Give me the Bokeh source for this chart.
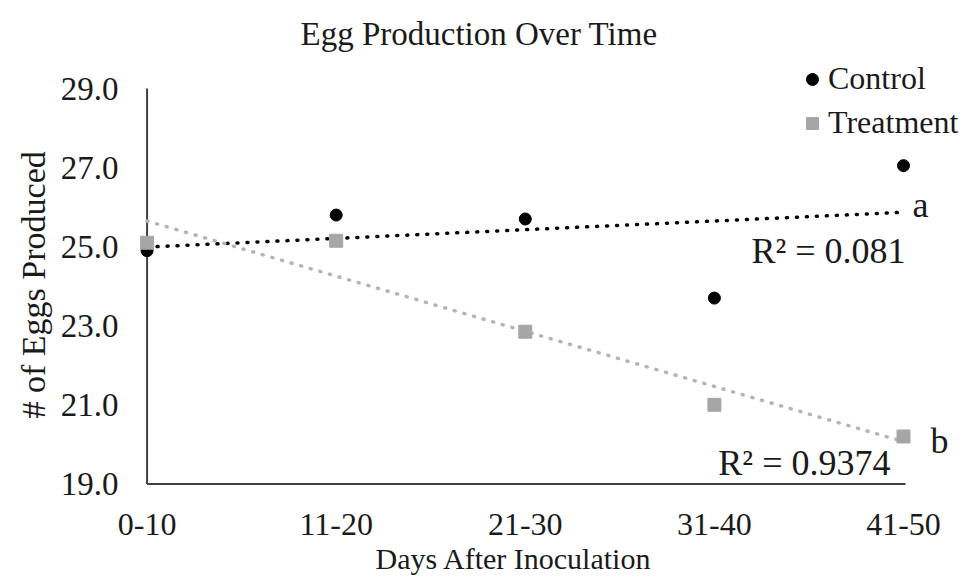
import numpy as np
from bokeh.plotting import figure
from bokeh.models import (Range1d, FixedTicker, Legend, LegendItem, Label, Title,
                          PrintfTickFormatter, ColumnDataSource)
from bokeh.embed import file_html
from bokeh.resources import INLINE

# ---- data ----
categories = ["0-10", "11-20", "21-30", "31-40", "41-50"]
control = [24.9, 25.8, 25.7, 23.7, 27.05]
treatment = [25.1, 25.15, 22.85, 21.0, 20.2]
y_ticks = [19, 21, 23, 25, 27, 29]
r2_control = "R\u00b2 = 0.081"
r2_treatment = "R\u00b2 = 0.9374"
letter_control = "a"
letter_treatment = "b"
title_text = "Egg Production Over Time"
x_title = "Days After Inoculation"
y_title = "# of Eggs Produced"

FONT = "Liberation Serif"
TXT = "#1a1a1a"
AX = "#404040"
CTRL_COL = "#000000"
TRT_COL = "#a6a6a6"
TRT_LINE = "#b4b4b4"

xpos = np.arange(len(categories))
x_lo, x_hi = -0.04, 4.349
y_lo, y_hi = 18.96, 29.81
x_axis_end = 4.0106

p = figure(width=969, height=580, output_backend="svg", toolbar_location=None,
           x_range=Range1d(x_lo, x_hi), y_range=Range1d(y_lo, y_hi),
           frame_width=830, frame_height=429,
           min_border_left=139, min_border_right=0,
           min_border_top=56, min_border_bottom=95)
p.outline_line_color = None
p.xgrid.visible = False
p.ygrid.visible = False
p.background_fill_color = "white"
p.border_fill_color = "white"

# title
p.title.text = title_text
p.title.align = "left"
p.title.offset = 161
p.title.text_font = FONT
p.title.text_font_size = "33px"
p.title.text_font_style = "normal"
p.title.text_color = TXT
p.title.standoff = 10

# axes
for ax in (p.xaxis[0], p.yaxis[0]):
    ax.axis_line_color = None
    ax.major_tick_line_color = None
    ax.minor_tick_line_color = None
    ax.major_label_text_font = FONT
    ax.major_label_text_color = TXT

p.xaxis.ticker = FixedTicker(ticks=list(xpos))
p.xaxis.major_label_overrides = {int(i): c for i, c in zip(xpos, categories)}
p.xaxis.major_label_text_font_size = "32px"
p.xaxis.major_label_standoff = 22

p.yaxis.ticker = FixedTicker(ticks=y_ticks)
p.yaxis.formatter = PrintfTickFormatter(format="%.1f")
p.yaxis.major_label_text_font_size = "33px"
p.yaxis.major_label_standoff = 15

# axis titles as side titles so they can be positioned
xt = Title(text=x_title, align="left", offset=236, text_font=FONT,
           text_font_size="30px", text_font_style="normal", text_color=TXT,
           standoff=4)
p.add_layout(xt, "below")
yt = Title(text=y_title, align="left", offset=67, text_font=FONT,
           text_font_size="34px", text_font_style="normal", text_color=TXT,
           standoff=11)
p.add_layout(yt, "left")

# axis lines drawn at data bounds
p.segment(x0=[0], y0=[min(y_ticks)], x1=[0], y1=[max(y_ticks)],
          line_color=AX, line_width=2)
p.segment(x0=[0], y0=[min(y_ticks)], x1=[x_axis_end], y1=[min(y_ticks)],
          line_color=AX, line_width=2)

# trendlines (least squares from data)
xs_end = np.array([xpos[0], xpos[-1]], dtype=float)
mc, bc = np.polyfit(xpos, control, 1)
mt, bt = np.polyfit(xpos, treatment, 1)
p.line(xs_end, mc * xs_end + bc, line_color=CTRL_COL, line_width=3.5,
       line_dash="1 9", line_cap="round")
p.line(xs_end, mt * xs_end + bt, line_color=TRT_LINE, line_width=3.5,
       line_dash="1 9", line_cap="round")

src = ColumnDataSource(dict(x=xpos, c=control, t=treatment))
rc = p.scatter("x", "c", source=src, marker="circle", size=12,
               fill_color=CTRL_COL, line_color=CTRL_COL)
rt = p.scatter("x", "t", source=src, marker="square", size=13,
               fill_color=TRT_COL, line_color=TRT_COL)

legend = Legend(items=[LegendItem(label="Control", renderers=[rc]),
                       LegendItem(label="Treatment", renderers=[rt])],
                location=(658, 344), orientation="vertical",
                label_text_font=FONT, label_text_font_size="32px",
                label_text_color=TXT, glyph_width=30, glyph_height=30,
                label_height=37, spacing=7, label_standoff=1,
                padding=0, margin=0, border_line_color=None,
                background_fill_alpha=0)
p.add_layout(legend, "center")

def lab(text, x, y, align):
    return Label(x=x, y=y, text=text, text_font=FONT, text_font_size="36px",
                 text_color=TXT, text_align=align, text_baseline="middle")

p.add_layout(lab(r2_control, 4.0106, 24.90, "right"))
p.add_layout(lab(r2_treatment, 3.931, 19.53, "right"))
p.add_layout(lab(letter_control, 4.048, 26.05, "left"))
p.add_layout(lab(letter_treatment, 4.143, 20.09, "left"))

open("out.html", "w").write(file_html(p, INLINE))
